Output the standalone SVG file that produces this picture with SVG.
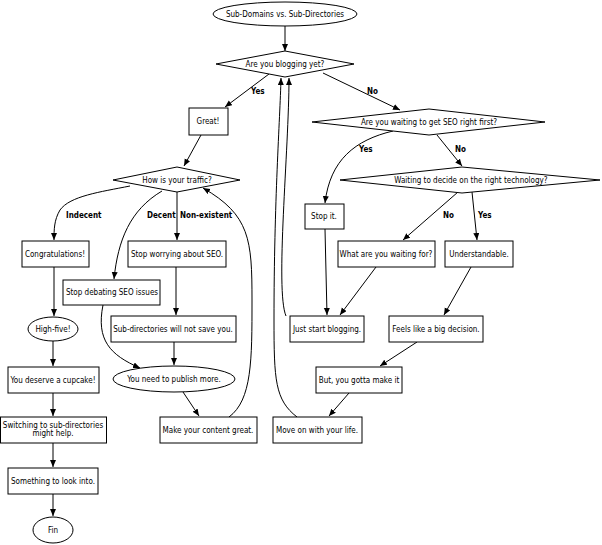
<svg xmlns="http://www.w3.org/2000/svg" width="602" height="545" viewBox="0 0 602 545">
<style>
.n{fill:#fff;stroke:#000;stroke-width:1}
text{font-family:"DejaVu Sans Condensed","Liberation Sans Narrow",sans-serif;font-size:8px;text-anchor:middle;fill:#000}
.l{font-weight:bold;text-anchor:start}
.e{fill:none;stroke:#000;stroke-width:1;marker-end:url(#a)}
</style>
<defs><marker id="a" markerWidth="8" markerHeight="8" refX="7" refY="3" orient="auto" markerUnits="userSpaceOnUse"><path d="M0,0L7,3L0,6z" fill="#000"/></marker></defs>
<rect width="602" height="545" fill="#fff"/>
<g id="edges">
<path class="e" d="M285,26V51"/>
<path class="e" d="M269,74L225,107"/>
<path class="e" d="M201,135L184,166"/>
<path class="e" d="M130,186C100,192 70,196 60,210C54,220 54,230 54,240"/>
<path class="e" d="M162,191C130,210 118,240 114,279"/>
<path class="e" d="M177,192V240"/>
<path class="e" d="M54,267V316"/>
<path class="e" d="M176,267V315"/>
<path class="e" d="M103,305C96,340 110,355 140,368"/>
<path class="e" d="M174,342V365"/>
<path class="e" d="M53,341V366"/>
<path class="e" d="M183,392L199,416"/>
<path class="e" d="M53,393V416"/>
<path class="e" d="M53,443V467"/>
<path class="e" d="M53,494V516"/>
<path class="e" d="M229,417C252,400 252,360 252,300C252,240 250,215 203,188"/>
<path class="e" d="M323,73L400,110"/>
<path class="e" d="M393,131C355,140 330,160 325,203"/>
<path class="e" d="M437,135L462,166"/>
<path class="e" d="M458,192L403,240"/>
<path class="e" d="M472,192L477,240"/>
<path class="e" d="M325,229L327,315"/>
<path class="e" d="M376,267L340,315"/>
<path class="e" d="M471,267L444,315"/>
<path class="e" d="M417,342L380,366"/>
<path class="e" d="M349,393L329,416"/>
<path class="e" d="M286,316C275,290 289,150 289,78"/>
<path class="e" d="M297,417C275,400 274,380 274,320C274,200 280,120 281,78"/>
</g>
<g id="labels">
<text class="l" x="251" y="94">Yes</text>
<text class="l" x="367" y="94">No</text>
<text class="l" x="66" y="218">Indecent</text>
<text class="l" x="147" y="218">Decent</text>
<text class="l" x="180" y="218">Non-existent</text>
<text class="l" x="359" y="152">Yes</text>
<text class="l" x="455" y="152">No</text>
<text class="l" x="443" y="218">No</text>
<text class="l" x="478" y="218">Yes</text>
</g>
<g id="n1"><ellipse class="n" cx="285" cy="14" rx="72" ry="12"/><text x="285" y="17">Sub-Domains vs. Sub-Directories</text></g>
<g id="n2"><polygon class="n" points="216,64 285,51 354,64 285,77"/><text x="285" y="67">Are you blogging yet?</text></g>
<g id="n3"><rect class="n" x="189" y="108" width="39" height="27"/><text x="208" y="124">Great!</text></g>
<g id="n4"><polygon class="n" points="113,180 177,167 240,180 177,192"/><text x="177" y="183">How is your traffic?</text></g>
<g id="n5"><rect class="n" x="22" y="241" width="67" height="26"/><text x="55" y="257">Congratulations!</text></g>
<g id="n6"><rect class="n" x="128" y="241" width="98" height="26"/><text x="177" y="257">Stop worrying about SEO.</text></g>
<g id="n7"><rect class="n" x="63" y="280" width="97" height="25"/><text x="112" y="295">Stop debating SEO issues</text></g>
<g id="n8"><ellipse class="n" cx="53" cy="329" rx="25" ry="12"/><text x="53" y="332">High-five!</text></g>
<g id="n9"><rect class="n" x="111" y="316" width="125" height="26"/><text x="173" y="332">Sub-directories will not save you.</text></g>
<g id="n10"><ellipse class="n" cx="174" cy="379" rx="61" ry="13"/><text x="174" y="382">You need to publish more.</text></g>
<g id="n11"><rect class="n" x="8" y="367" width="91" height="26"/><text x="53" y="383">You deserve a cupcake!</text></g>
<g id="n12"><rect class="n" x="0.5" y="417" width="106" height="26"/><text x="53" y="428">Switching to sub-directories</text><text x="53" y="436">might help.</text></g>
<g id="n13"><rect class="n" x="160" y="417" width="97" height="26"/><text x="208" y="433">Make your content great.</text></g>
<g id="n14"><rect class="n" x="8" y="468" width="90" height="26"/><text x="53" y="484">Something to look into.</text></g>
<g id="n15"><ellipse class="n" cx="53" cy="530" rx="20" ry="13"/><text x="53" y="533">Fin</text></g>
<g id="n16"><polygon class="n" points="312,122 429,109 545,122 429,135"/><text x="429" y="125">Are you waiting to get SEO right first?</text></g>
<g id="n17"><polygon class="n" points="340,180 462,167 600,180 462,193"/><text x="471" y="183">Waiting to decide on the right technology?</text></g>
<g id="n18"><rect class="n" x="305" y="204" width="39" height="25"/><text x="324" y="219">Stop it.</text></g>
<g id="n19"><rect class="n" x="338" y="241" width="97" height="26"/><text x="386" y="257">What are you waiting for?</text></g>
<g id="n20"><rect class="n" x="445" y="241" width="68" height="26"/><text x="479" y="257">Understandable.</text></g>
<g id="n21"><rect class="n" x="290" y="316" width="74" height="26"/><text x="327" y="332">Just start blogging.</text></g>
<g id="n22"><rect class="n" x="389" y="316" width="94" height="26"/><text x="436" y="332">Feels like a big decision.</text></g>
<g id="n23"><rect class="n" x="316" y="367" width="86" height="26"/><text x="359" y="383">But, you gotta make it</text></g>
<g id="n24"><rect class="n" x="273" y="417" width="89" height="26"/><text x="317" y="433">Move on with your life.</text></g>
</svg>
